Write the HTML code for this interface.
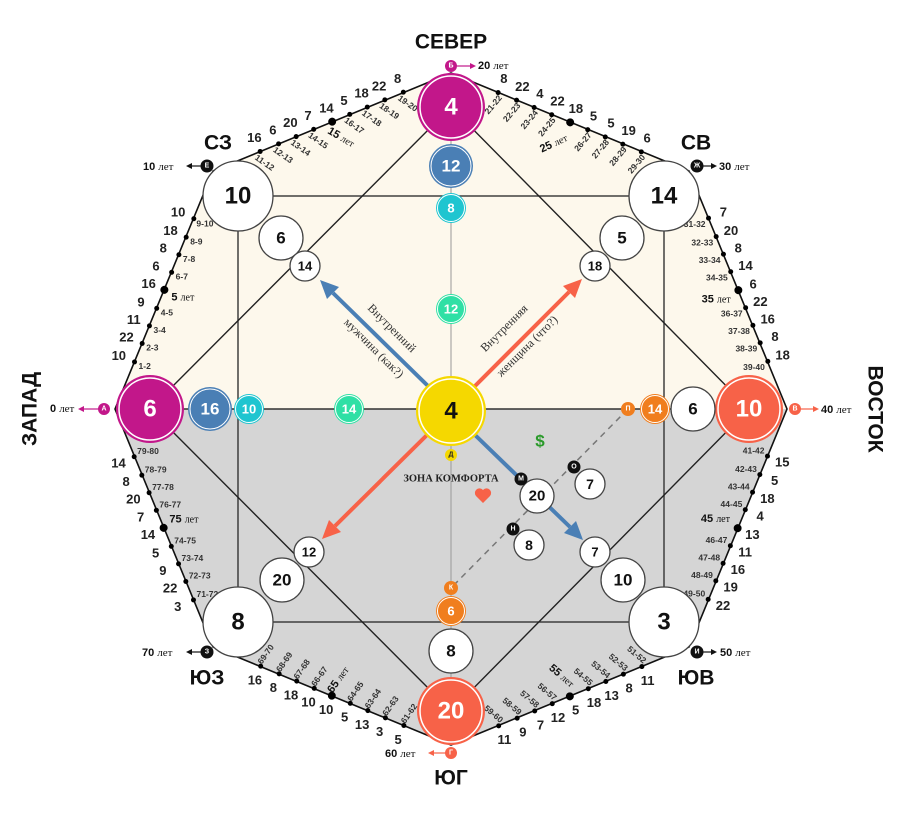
<!DOCTYPE html>
<html><head><meta charset="utf-8"><style>
body{margin:0;background:#fff}
svg{display:block;font-family:"Liberation Sans",sans-serif}
.n{font-size:13px;font-weight:bold;fill:#222;text-anchor:middle;dominant-baseline:central}
.r{font-size:8.5px;font-weight:bold;fill:#333;text-anchor:middle;dominant-baseline:central}
.y{font-size:11px;font-weight:bold;fill:#111;text-anchor:middle;dominant-baseline:central}
.y tspan.s{font-family:"Liberation Serif",serif;font-weight:normal;font-size:10px}
.c{font-weight:bold;text-anchor:middle;dominant-baseline:central}
.w{fill:#fff;stroke:#444;stroke-width:1.3}
.d{font-weight:bold;fill:#111;text-anchor:middle;dominant-baseline:central}
.m{font-size:7px;font-weight:bold;fill:#fff;text-anchor:middle;dominant-baseline:central}
.a{font-size:11px;font-weight:bold;fill:#111;dominant-baseline:central}
.a tspan{font-family:"Liberation Serif",serif;font-weight:normal}
.t{font-family:"Liberation Serif",serif;font-size:12px;fill:#333;text-anchor:middle;dominant-baseline:central}
</style></head><body>
<svg width="905" height="820" viewBox="0 0 905 820">
<polygon points="115,409 213,171 451,73 689,171 787,409" fill="#fdf8ec"/>
<polygon points="115,409 213,647 451,745 689,647 787,409" fill="#d5d5d5"/>
<line x1="451" y1="107" x2="451" y2="711" stroke="#999" stroke-width="1"/>
<rect x="238" y="196" width="426" height="426" fill="none" stroke="#333" stroke-width="1.4"/>
<polygon points="451,107 749,409 451,711 150,409" fill="none" stroke="#222" stroke-width="1.4"/>
<line x1="150" y1="409" x2="749" y2="409" stroke="#333" stroke-width="1.4"/>
<line x1="628" y1="409" x2="451" y2="588" stroke="#777" stroke-width="1.5" stroke-dasharray="6,5"/>
<polygon points="115,409 213,171 451,73 689,171 787,409 689,647 451,745 213,647" fill="none" stroke="#111" stroke-width="1.6"/>

<g transform="translate(115,409) rotate(-67.5)">
<circle cx="51" cy="0" r="2.5"/><circle cx="71" cy="0" r="2.5"/><circle cx="90" cy="0" r="2.5"/><circle cx="109" cy="0" r="2.5"/><circle cx="129" cy="0" r="4"/><circle cx="148" cy="0" r="2.5"/><circle cx="167" cy="0" r="2.5"/><circle cx="186" cy="0" r="2.5"/><circle cx="206" cy="0" r="2.5"/>
<text class="n" transform="translate(51,-17) rotate(67.5)">10</text><text class="n" transform="translate(71,-17) rotate(67.5)">22</text><text class="n" transform="translate(90,-17) rotate(67.5)">11</text><text class="n" transform="translate(109,-17) rotate(67.5)">9</text><text class="n" transform="translate(129,-17) rotate(67.5)">16</text><text class="n" transform="translate(148,-17) rotate(67.5)">6</text><text class="n" transform="translate(167,-17) rotate(67.5)">8</text><text class="n" transform="translate(186,-17) rotate(67.5)">18</text><text class="n" transform="translate(206,-17) rotate(67.5)">10</text>
<text class="r" transform="translate(51,11) rotate(67.5)">1-2</text><text class="r" transform="translate(71,11) rotate(67.5)">2-3</text><text class="r" transform="translate(90,11) rotate(67.5)">3-4</text><text class="r" transform="translate(109,11) rotate(67.5)">4-5</text><text class="y" transform="translate(129,20) rotate(67.5)">5 <tspan class="s">лет</tspan></text><text class="r" transform="translate(148,11) rotate(67.5)">6-7</text><text class="r" transform="translate(167,11) rotate(67.5)">7-8</text><text class="r" transform="translate(186,11) rotate(67.5)">8-9</text><text class="r" transform="translate(206,12) rotate(67.5)">9-10</text>
</g>
<g transform="translate(213,171) rotate(-22.5)">
<circle cx="51" cy="0" r="2.5"/><circle cx="71" cy="0" r="2.5"/><circle cx="90" cy="0" r="2.5"/><circle cx="109" cy="0" r="2.5"/><circle cx="129" cy="0" r="4"/><circle cx="148" cy="0" r="2.5"/><circle cx="167" cy="0" r="2.5"/><circle cx="186" cy="0" r="2.5"/><circle cx="206" cy="0" r="2.5"/>
<text class="n" transform="translate(51,-15) rotate(22.5)">16</text><text class="n" transform="translate(71,-15) rotate(22.5)">6</text><text class="n" transform="translate(90,-15) rotate(22.5)">20</text><text class="n" transform="translate(109,-15) rotate(22.5)">7</text><text class="n" transform="translate(129,-15) rotate(22.5)">14</text><text class="n" transform="translate(148,-15) rotate(22.5)">5</text><text class="n" transform="translate(167,-15) rotate(22.5)">18</text><text class="n" transform="translate(186,-15) rotate(22.5)">22</text><text class="n" transform="translate(206,-15) rotate(22.5)">8</text>
<text class="r" transform="translate(51,12) rotate(57.5)">11-12</text><text class="r" transform="translate(71,12) rotate(57.5)">12-13</text><text class="r" transform="translate(90,12) rotate(57.5)">13-14</text><text class="r" transform="translate(109,12) rotate(57.5)">14-15</text><text class="y" transform="translate(131,18) rotate(52.5)">15 <tspan class="s">лет</tspan></text><text class="r" transform="translate(148,12) rotate(57.5)">16-17</text><text class="r" transform="translate(167,12) rotate(57.5)">17-18</text><text class="r" transform="translate(186,12) rotate(57.5)">18-19</text><text class="r" transform="translate(206,12) rotate(57.5)">19-20</text>
</g>
<g transform="translate(451,73) rotate(22.5)">
<circle cx="51" cy="0" r="2.5"/><circle cx="71" cy="0" r="2.5"/><circle cx="90" cy="0" r="2.5"/><circle cx="109" cy="0" r="2.5"/><circle cx="129" cy="0" r="4"/><circle cx="148" cy="0" r="2.5"/><circle cx="167" cy="0" r="2.5"/><circle cx="186" cy="0" r="2.5"/><circle cx="206" cy="0" r="2.5"/>
<text class="n" transform="translate(51,-15) rotate(-22.5)">8</text><text class="n" transform="translate(71,-15) rotate(-22.5)">22</text><text class="n" transform="translate(90,-15) rotate(-22.5)">4</text><text class="n" transform="translate(109,-15) rotate(-22.5)">22</text><text class="n" transform="translate(129,-15) rotate(-22.5)">18</text><text class="n" transform="translate(148,-15) rotate(-22.5)">5</text><text class="n" transform="translate(167,-15) rotate(-22.5)">5</text><text class="n" transform="translate(186,-15) rotate(-22.5)">19</text><text class="n" transform="translate(206,-15) rotate(-22.5)">6</text>
<text class="r" transform="translate(51,13) rotate(-72.5)">21-22</text><text class="r" transform="translate(71,13) rotate(-72.5)">22-23</text><text class="r" transform="translate(90,13) rotate(-72.5)">23-24</text><text class="r" transform="translate(109,13) rotate(-72.5)">24-25</text><text class="y" transform="translate(122,26) rotate(-47.5)">25 <tspan class="s">лет</tspan></text><text class="r" transform="translate(148,13) rotate(-72.5)">26-27</text><text class="r" transform="translate(167,13) rotate(-72.5)">27-28</text><text class="r" transform="translate(186,13) rotate(-72.5)">28-29</text><text class="r" transform="translate(206,13) rotate(-72.5)">29-30</text>
</g>
<g transform="translate(689,171) rotate(67.5)">
<circle cx="51" cy="0" r="2.5"/><circle cx="71" cy="0" r="2.5"/><circle cx="90" cy="0" r="2.5"/><circle cx="109" cy="0" r="2.5"/><circle cx="129" cy="0" r="4"/><circle cx="148" cy="0" r="2.5"/><circle cx="167" cy="0" r="2.5"/><circle cx="186" cy="0" r="2.5"/><circle cx="206" cy="0" r="2.5"/>
<text class="n" transform="translate(51,-16) rotate(-67.5)">7</text><text class="n" transform="translate(71,-16) rotate(-67.5)">20</text><text class="n" transform="translate(90,-16) rotate(-67.5)">8</text><text class="n" transform="translate(109,-16) rotate(-67.5)">14</text><text class="n" transform="translate(129,-16) rotate(-67.5)">6</text><text class="n" transform="translate(148,-16) rotate(-67.5)">22</text><text class="n" transform="translate(167,-16) rotate(-67.5)">16</text><text class="n" transform="translate(186,-16) rotate(-67.5)">8</text><text class="n" transform="translate(206,-16) rotate(-67.5)">18</text>
<text class="r" transform="translate(51,15) rotate(-67.5)">31-32</text><text class="r" transform="translate(71,15) rotate(-67.5)">32-33</text><text class="r" transform="translate(90,15) rotate(-67.5)">33-34</text><text class="r" transform="translate(109,15) rotate(-67.5)">34-35</text><text class="y" transform="translate(129,24) rotate(-67.5)">35 <tspan class="s">лет</tspan></text><text class="r" transform="translate(148,15) rotate(-67.5)">36-37</text><text class="r" transform="translate(167,15) rotate(-67.5)">37-38</text><text class="r" transform="translate(186,15) rotate(-67.5)">38-39</text><text class="r" transform="translate(206,15) rotate(-67.5)">39-40</text>
</g>
<g transform="translate(787,409) rotate(112.5)">
<circle cx="51" cy="0" r="2.5"/><circle cx="71" cy="0" r="2.5"/><circle cx="90" cy="0" r="2.5"/><circle cx="109" cy="0" r="2.5"/><circle cx="129" cy="0" r="4"/><circle cx="148" cy="0" r="2.5"/><circle cx="167" cy="0" r="2.5"/><circle cx="186" cy="0" r="2.5"/><circle cx="206" cy="0" r="2.5"/>
<text class="n" transform="translate(51,-16) rotate(-112.5)">15</text><text class="n" transform="translate(71,-16) rotate(-112.5)">5</text><text class="n" transform="translate(90,-16) rotate(-112.5)">18</text><text class="n" transform="translate(109,-16) rotate(-112.5)">4</text><text class="n" transform="translate(129,-16) rotate(-112.5)">13</text><text class="n" transform="translate(148,-16) rotate(-112.5)">11</text><text class="n" transform="translate(167,-16) rotate(-112.5)">16</text><text class="n" transform="translate(186,-16) rotate(-112.5)">19</text><text class="n" transform="translate(206,-16) rotate(-112.5)">22</text>
<text class="r" transform="translate(51,15) rotate(-112.5)">41-42</text><text class="r" transform="translate(71,15) rotate(-112.5)">42-43</text><text class="r" transform="translate(90,15) rotate(-112.5)">43-44</text><text class="r" transform="translate(109,15) rotate(-112.5)">44-45</text><text class="y" transform="translate(129,24) rotate(-112.5)">45 <tspan class="s">лет</tspan></text><text class="r" transform="translate(148,15) rotate(-112.5)">46-47</text><text class="r" transform="translate(167,15) rotate(-112.5)">47-48</text><text class="r" transform="translate(186,15) rotate(-112.5)">48-49</text><text class="r" transform="translate(206,15) rotate(-112.5)">49-50</text>
</g>
<g transform="translate(689,647) rotate(157.5)">
<circle cx="51" cy="0" r="2.5"/><circle cx="71" cy="0" r="2.5"/><circle cx="90" cy="0" r="2.5"/><circle cx="109" cy="0" r="2.5"/><circle cx="129" cy="0" r="4"/><circle cx="148" cy="0" r="2.5"/><circle cx="167" cy="0" r="2.5"/><circle cx="186" cy="0" r="2.5"/><circle cx="206" cy="0" r="2.5"/>
<text class="n" transform="translate(51,-15) rotate(-157.5)">11</text><text class="n" transform="translate(71,-15) rotate(-157.5)">8</text><text class="n" transform="translate(90,-15) rotate(-157.5)">13</text><text class="n" transform="translate(109,-15) rotate(-157.5)">18</text><text class="n" transform="translate(129,-15) rotate(-157.5)">5</text><text class="n" transform="translate(148,-15) rotate(-157.5)">12</text><text class="n" transform="translate(167,-15) rotate(-157.5)">7</text><text class="n" transform="translate(186,-15) rotate(-157.5)">9</text><text class="n" transform="translate(206,-15) rotate(-157.5)">11</text>
<text class="r" transform="translate(51,13) rotate(-117.5)">51-52</text><text class="r" transform="translate(71,13) rotate(-117.5)">52-53</text><text class="r" transform="translate(90,13) rotate(-117.5)">53-54</text><text class="r" transform="translate(109,13) rotate(-117.5)">54-55</text><text class="y" transform="translate(129,22) rotate(-117.5)">55 <tspan class="s">лет</tspan></text><text class="r" transform="translate(148,13) rotate(-117.5)">56-57</text><text class="r" transform="translate(167,13) rotate(-117.5)">57-58</text><text class="r" transform="translate(186,13) rotate(-117.5)">58-59</text><text class="r" transform="translate(206,13) rotate(-117.5)">59-60</text>
</g>
<g transform="translate(451,745) rotate(202.5)">
<circle cx="51" cy="0" r="2.5"/><circle cx="71" cy="0" r="2.5"/><circle cx="90" cy="0" r="2.5"/><circle cx="109" cy="0" r="2.5"/><circle cx="129" cy="0" r="4"/><circle cx="148" cy="0" r="2.5"/><circle cx="167" cy="0" r="2.5"/><circle cx="186" cy="0" r="2.5"/><circle cx="206" cy="0" r="2.5"/>
<text class="n" transform="translate(51,-15) rotate(-202.5)">5</text><text class="n" transform="translate(71,-15) rotate(-202.5)">3</text><text class="n" transform="translate(90,-15) rotate(-202.5)">13</text><text class="n" transform="translate(109,-15) rotate(-202.5)">5</text><text class="n" transform="translate(129,-15) rotate(-202.5)">10</text><text class="n" transform="translate(148,-15) rotate(-202.5)">10</text><text class="n" transform="translate(167,-15) rotate(-202.5)">18</text><text class="n" transform="translate(186,-15) rotate(-202.5)">8</text><text class="n" transform="translate(206,-15) rotate(-202.5)">16</text>
<text class="r" transform="translate(51,13) rotate(-257.5)">61-62</text><text class="r" transform="translate(71,13) rotate(-257.5)">62-63</text><text class="r" transform="translate(90,13) rotate(-257.5)">63-64</text><text class="r" transform="translate(109,13) rotate(-257.5)">64-65</text><text class="y" transform="translate(129,17) rotate(-257.5)">65 <tspan class="s">лет</tspan></text><text class="r" transform="translate(148,13) rotate(-257.5)">66-67</text><text class="r" transform="translate(167,13) rotate(-257.5)">67-68</text><text class="r" transform="translate(186,13) rotate(-257.5)">68-69</text><text class="r" transform="translate(206,13) rotate(-257.5)">69-70</text>
</g>
<g transform="translate(213,647) rotate(247.5)">
<circle cx="51" cy="0" r="2.5"/><circle cx="71" cy="0" r="2.5"/><circle cx="90" cy="0" r="2.5"/><circle cx="109" cy="0" r="2.5"/><circle cx="129" cy="0" r="4"/><circle cx="148" cy="0" r="2.5"/><circle cx="167" cy="0" r="2.5"/><circle cx="186" cy="0" r="2.5"/><circle cx="206" cy="0" r="2.5"/>
<text class="n" transform="translate(51,-17) rotate(-247.5)">3</text><text class="n" transform="translate(71,-17) rotate(-247.5)">22</text><text class="n" transform="translate(90,-17) rotate(-247.5)">9</text><text class="n" transform="translate(109,-17) rotate(-247.5)">5</text><text class="n" transform="translate(129,-17) rotate(-247.5)">14</text><text class="n" transform="translate(148,-17) rotate(-247.5)">7</text><text class="n" transform="translate(167,-17) rotate(-247.5)">20</text><text class="n" transform="translate(186,-17) rotate(-247.5)">8</text><text class="n" transform="translate(206,-17) rotate(-247.5)">14</text>
<text class="r" transform="translate(51,15) rotate(-247.5)">71-72</text><text class="r" transform="translate(71,15) rotate(-247.5)">72-73</text><text class="r" transform="translate(90,15) rotate(-247.5)">73-74</text><text class="r" transform="translate(109,15) rotate(-247.5)">74-75</text><text class="y" transform="translate(129,22) rotate(-247.5)">75 <tspan class="s">лет</tspan></text><text class="r" transform="translate(148,15) rotate(-247.5)">76-77</text><text class="r" transform="translate(167,15) rotate(-247.5)">77-78</text><text class="r" transform="translate(186,15) rotate(-247.5)">78-79</text><text class="r" transform="translate(206,15) rotate(-247.5)">79-80</text>
</g>

<line x1="428" y1="386" x2="333" y2="293" stroke="#4a7fb5" stroke-width="4"/>
<polygon points="320,280 339,287 327,299" fill="#4a7fb5"/>
<line x1="474" y1="387" x2="569" y2="292" stroke="#f76248" stroke-width="4"/>
<polygon points="582,279 575,298 563,286" fill="#f76248"/>
<line x1="428" y1="434" x2="335" y2="526" stroke="#f76248" stroke-width="4"/>
<polygon points="322,539 341,532 329,520" fill="#f76248"/>
<line x1="474" y1="434" x2="570" y2="527" stroke="#4a7fb5" stroke-width="4"/>
<polygon points="583,540 576,521 564,533" fill="#4a7fb5"/>
<text class="t" transform="translate(392,328) rotate(45)">Внутренний</text>
<text class="t" transform="translate(374,348) rotate(45)">мужчина (как?)</text>
<text class="t" transform="translate(504,328) rotate(-45)">Внутренняя</text>
<text class="t" transform="translate(527,346) rotate(-45)">женщина (что?)</text>

<g>
<circle cx="451" cy="107" r="34" fill="#c2178a"/><circle cx="451" cy="107" r="31" fill="none" stroke="#fff" stroke-width="1.5"/><text class="c" x="451" y="107" font-size="24" fill="#fff">4</text>
<circle cx="451" cy="166" r="22" fill="#4a7fb5"/><circle cx="451" cy="166" r="20" fill="none" stroke="#fff" stroke-width="1"/><text class="c" x="451" y="166" font-size="17" fill="#fff">12</text>
<circle cx="451" cy="208" r="15" fill="#1fc5d0"/><circle cx="451" cy="208" r="13.5" fill="none" stroke="#fff" stroke-width="1"/><text class="c" x="451" y="208" font-size="13" fill="#fff">8</text>
<circle cx="451" cy="309" r="15" fill="#2fe0a5"/><circle cx="451" cy="309" r="13.5" fill="none" stroke="#fff" stroke-width="1"/><text class="c" x="451" y="309" font-size="13" fill="#fff">12</text>

<circle cx="238" cy="196" r="35" class="w"/><text class="d" x="238" y="196" font-size="24">10</text>
<circle cx="664" cy="196" r="35" class="w"/><text class="d" x="664" y="196" font-size="24">14</text>
<circle cx="238" cy="622" r="35" class="w"/><text class="d" x="238" y="622" font-size="24">8</text>
<circle cx="664" cy="622" r="35" class="w"/><text class="d" x="664" y="622" font-size="24">3</text>

<circle cx="281" cy="238" r="22" class="w"/><text class="d" x="281" y="238" font-size="17">6</text>
<circle cx="305" cy="266" r="15" class="w"/><text class="d" x="305" y="266" font-size="13">14</text>
<circle cx="622" cy="238" r="22" class="w"/><text class="d" x="622" y="238" font-size="17">5</text>
<circle cx="595" cy="266" r="15" class="w"/><text class="d" x="595" y="266" font-size="13">18</text>
<circle cx="282" cy="580" r="22" class="w"/><text class="d" x="282" y="580" font-size="17">20</text>
<circle cx="309" cy="552" r="15" class="w"/><text class="d" x="309" y="552" font-size="13">12</text>
<circle cx="623" cy="580" r="22" class="w"/><text class="d" x="623" y="580" font-size="17">10</text>
<circle cx="595" cy="552" r="15" class="w"/><text class="d" x="595" y="552" font-size="13">7</text>

<circle cx="150" cy="409" r="34" fill="#c2178a"/><circle cx="150" cy="409" r="31" fill="none" stroke="#fff" stroke-width="1.5"/><text class="c" x="150" y="409" font-size="24" fill="#fff">6</text>
<circle cx="210" cy="409" r="22" fill="#4a7fb5"/><circle cx="210" cy="409" r="20" fill="none" stroke="#fff" stroke-width="1"/><text class="c" x="210" y="409" font-size="17" fill="#fff">16</text>
<circle cx="249" cy="409" r="15" fill="#1fc5d0"/><circle cx="249" cy="409" r="13.5" fill="none" stroke="#fff" stroke-width="1"/><text class="c" x="249" y="409" font-size="13" fill="#fff">10</text>
<circle cx="349" cy="409" r="15" fill="#2fe0a5"/><circle cx="349" cy="409" r="13.5" fill="none" stroke="#fff" stroke-width="1"/><text class="c" x="349" y="409" font-size="13" fill="#fff">14</text>

<circle cx="451" cy="411" r="35" fill="#f5d800"/><circle cx="451" cy="411" r="32" fill="none" stroke="#fff" stroke-width="1.5"/><text class="d" x="451" y="411" font-size="24">4</text>
<circle cx="451" cy="455" r="6" fill="#f5d800"/><text class="m" x="451" y="455" style="fill:#222">Д</text>

<circle cx="749" cy="409" r="34" fill="#f76248"/><circle cx="749" cy="409" r="31" fill="none" stroke="#fff" stroke-width="1.5"/><text class="c" x="749" y="409" font-size="24" fill="#fff">10</text>
<circle cx="693" cy="409" r="22" class="w"/><text class="d" x="693" y="409" font-size="17">6</text>
<circle cx="655" cy="409" r="15" fill="#f07e1e"/><circle cx="655" cy="409" r="13.5" fill="none" stroke="#fff" stroke-width="1"/><text class="c" x="655" y="409" font-size="13" fill="#fff">14</text>
<circle cx="628" cy="409" r="7" fill="#f07e1e"/><text class="m" x="628" y="409">П</text>

<circle cx="451" cy="711" r="34" fill="#f76248"/><circle cx="451" cy="711" r="31" fill="none" stroke="#fff" stroke-width="1.5"/><text class="c" x="451" y="711" font-size="24" fill="#fff">20</text>
<circle cx="451" cy="651" r="22" class="w"/><text class="d" x="451" y="651" font-size="17">8</text>
<circle cx="451" cy="611" r="15" fill="#f07e1e"/><circle cx="451" cy="611" r="13.5" fill="none" stroke="#fff" stroke-width="1"/><text class="c" x="451" y="611" font-size="13" fill="#fff">6</text>
<circle cx="451" cy="588" r="7" fill="#f07e1e"/><text class="m" x="451" y="588">К</text>

<circle cx="537" cy="496" r="17" class="w"/><text class="d" x="537" y="496" font-size="15">20</text>
<circle cx="521" cy="479" r="6.5" fill="#111"/><text class="m" x="521" y="479">М</text>
<circle cx="590" cy="484" r="15" class="w"/><text class="d" x="590" y="484" font-size="14">7</text>
<circle cx="574" cy="467" r="6.5" fill="#111"/><text class="m" x="574" y="467">О</text>
<circle cx="529" cy="545" r="15" class="w"/><text class="d" x="529" y="545" font-size="14">8</text>
<circle cx="513" cy="529" r="6.5" fill="#111"/><text class="m" x="513" y="529">Н</text>
</g>
<text x="540" y="441" font-size="17" font-weight="bold" fill="#2a9a2a" text-anchor="middle" dominant-baseline="central">$</text>
<text x="451" y="479" font-family="Liberation Serif,serif" font-size="10.5" font-weight="bold" fill="#222" text-anchor="middle" dominant-baseline="central">ЗОНА КОМФОРТА</text>
<path d="M483,503 L476,496 A4,4 0 1 1 483,490 A4,4 0 1 1 490,496 Z" fill="#f76248"/>

<circle cx="104" cy="409" r="6" fill="#c2178a"/><text class="m" x="104" y="409">А</text>
<line x1="98" y1="409" x2="82" y2="409" stroke="#c2178a" stroke-width="1.2"/><polygon points="78,409 84,406 84,412" fill="#c2178a"/>
<text class="a" x="50" y="409">0 <tspan>лет</tspan></text>

<circle cx="451" cy="66" r="6" fill="#c2178a"/><text class="m" x="451" y="66">Б</text>
<line x1="457" y1="66" x2="472" y2="66" stroke="#c2178a" stroke-width="1.2"/><polygon points="476,66 470,63 470,69" fill="#c2178a"/>
<text class="a" x="478" y="66">20 <tspan>лет</tspan></text>

<circle cx="697" cy="166" r="6.5" fill="#111"/><text class="m" x="697" y="166">Ж</text>
<line x1="703" y1="166" x2="713" y2="166" stroke="#111" stroke-width="1.2"/><polygon points="717,166 711,163 711,169" fill="#111"/>
<text class="a" x="719" y="167">30 <tspan>лет</tspan></text>

<circle cx="795" cy="409" r="6" fill="#f76248"/><text class="m" x="795" y="409">В</text>
<line x1="801" y1="409" x2="815" y2="409" stroke="#f76248" stroke-width="1.2"/><polygon points="819,409 813,406 813,412" fill="#f76248"/>
<text class="a" x="821" y="410">40 <tspan>лет</tspan></text>

<circle cx="697" cy="652" r="6.5" fill="#111"/><text class="m" x="697" y="652">И</text>
<line x1="703" y1="652" x2="713" y2="652" stroke="#111" stroke-width="1.2"/><polygon points="717,652 711,649 711,655" fill="#111"/>
<text class="a" x="720" y="653">50 <tspan>лет</tspan></text>

<circle cx="451" cy="753" r="6" fill="#f76248"/><text class="m" x="451" y="753">Г</text>
<line x1="445" y1="753" x2="432" y2="753" stroke="#f76248" stroke-width="1.2"/><polygon points="428,753 434,750 434,756" fill="#f76248"/>
<text class="a" x="385" y="754">60 <tspan>лет</tspan></text>

<circle cx="207" cy="652" r="6.5" fill="#111"/><text class="m" x="207" y="652">З</text>
<line x1="201" y1="652" x2="190" y2="652" stroke="#111" stroke-width="1.2"/><polygon points="186,652 192,649 192,655" fill="#111"/>
<text class="a" x="142" y="653">70 <tspan>лет</tspan></text>

<circle cx="207" cy="166" r="6.5" fill="#111"/><text class="m" x="207" y="166">Е</text>
<line x1="201" y1="166" x2="190" y2="166" stroke="#111" stroke-width="1.2"/><polygon points="186,166 192,163 192,169" fill="#111"/>
<text class="a" x="143" y="167">10 <tspan>лет</tspan></text>

<g font-weight="bold" fill="#111" text-anchor="middle" dominant-baseline="central" font-size="21">
<text x="451" y="42">СЕВЕР</text>
<text x="696" y="143">СВ</text>
<text x="218" y="143">СЗ</text>
<text x="696" y="678">ЮВ</text>
<text x="207" y="678">ЮЗ</text>
<text x="451" y="778">ЮГ</text>
<text transform="translate(30,409) rotate(-90)">ЗАПАД</text>
<text transform="translate(875,409) rotate(90)">ВОСТОК</text>
</g>
</svg>
</body></html>
